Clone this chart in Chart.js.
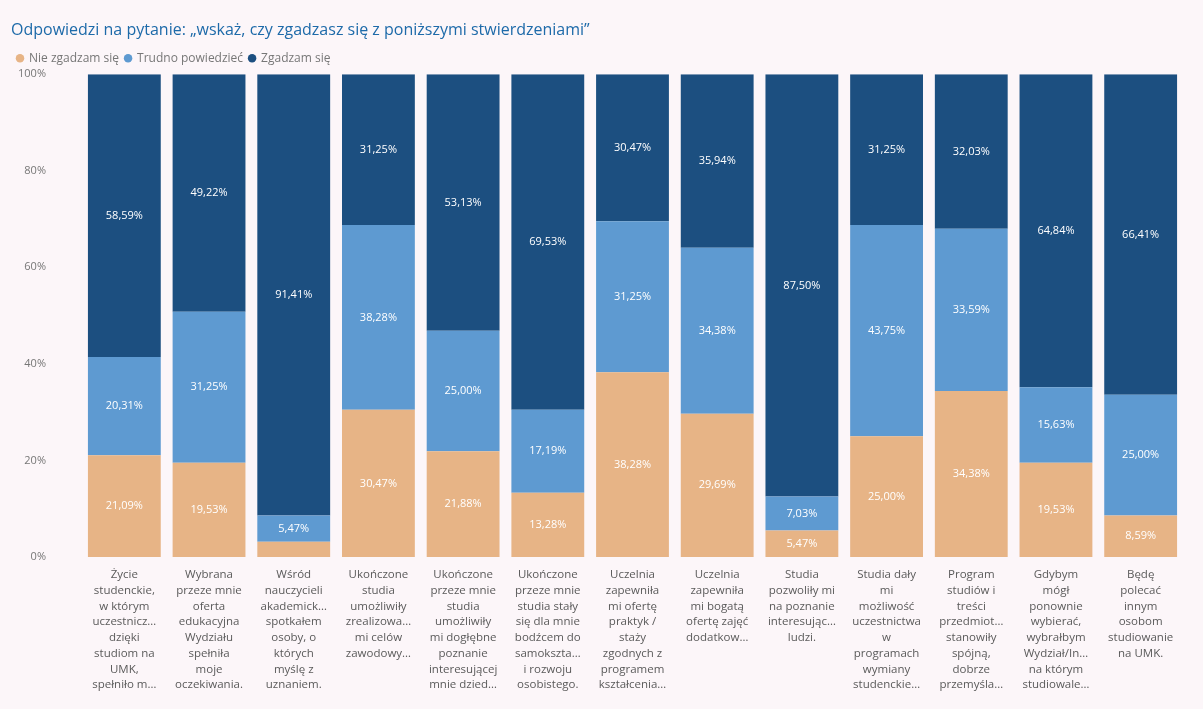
<!DOCTYPE html>
<html>
<head>
<meta charset="utf-8">
<script src="https://cdn.jsdelivr.net/npm/chart.js@4.4.1/dist/chart.umd.min.js"></script>
<style>
    html, body { margin: 0; padding: 0; background: #fcf6f9; }
    #wrap { width: 1203px; height: 709px; position: relative; }
</style>
</head>
<body>
<div id="wrap"><canvas id="chartOdpowiedzi"></canvas></div>
<script>
var categories = [
    ["Życie", "studenckie,", "w którym", "uczestnicz…", "dzięki", "studiom na", "UMK,", "spełniło m…"],
    ["Wybrana", "przeze mnie", "oferta", "edukacyjna", "Wydziału", "spełniła", "moje", "oczekiwania."],
    ["Wśród", "nauczycieli", "akademick…", "spotkałem", "osoby, o", "których", "myślę z", "uznaniem."],
    ["Ukończone", "studia", "umożliwiły", "zrealizowa…", "mi celów", "zawodowy…"],
    ["Ukończone", "przeze mnie", "studia", "umożliwiły", "mi dogłębne", "poznanie", "interesującej", "mnie dzied…"],
    ["Ukończone", "przeze mnie", "studia stały", "się dla mnie", "bodźcem do", "samokszta…", "i rozwoju", "osobistego."],
    ["Uczelnia", "zapewniła", "mi ofertę", "praktyk /", "staży", "zgodnych z", "programem", "kształcenia…"],
    ["Uczelnia", "zapewniła", "mi bogatą", "ofertę zajęć", "dodatkow…"],
    ["Studia", "pozwoliły mi", "na poznanie", "interesując…", "ludzi."],
    ["Studia dały", "mi", "możliwość", "uczestnictwa", "w", "programach", "wymiany", "studenckie…"],
    ["Program", "studiów i", "treści", "przedmiot…", "stanowiły", "spójną,", "dobrze", "przemyśla…"],
    ["Gdybym", "mógł", "ponownie", "wybierać,", "wybrałbym", "Wydział/In…", "na którym", "studiowale…"],
    ["Będę", "polecać", "innym", "osobom", "studiowanie", "na UMK."]
];

var nieZgadzam = [21.09, 19.53, 3.13, 30.47, 21.88, 13.28, 38.28, 29.69, 5.47, 25.00, 34.38, 19.53, 8.59];
var trudno     = [20.31, 31.25, 5.47, 38.28, 25.00, 17.19, 31.25, 34.38, 7.03, 43.75, 33.59, 15.63, 25.00];
var zgadzam    = [58.59, 49.22, 91.41, 31.25, 53.13, 69.53, 30.47, 35.94, 87.50, 31.25, 32.03, 64.84, 66.41];

var yTicks = [0, 20, 40, 60, 80, 100];

var FONT = "'Segoe UI', 'Open Sans', 'Noto Sans', sans-serif";

function fmtPct(v) {
    return v.toFixed(2).replace('.', ',') + '%';
}

// values written in the middle of each segment
var segmentLabels = {
    id: 'segmentLabels',
    afterDatasetsDraw: function(chart) {
        var ctx = chart.ctx;
        ctx.save();
        ctx.font = '11px ' + FONT;
        ctx.fillStyle = '#ffffff';
        ctx.textAlign = 'center';
        ctx.textBaseline = 'middle';
        chart.data.datasets.forEach(function(ds, i) {
            var meta = chart.getDatasetMeta(i);
            meta.data.forEach(function(bar, j) {
                var v = ds.data[j];
                if (v < 4) return;
                ctx.fillText(fmtPct(v), bar.x, (bar.y + bar.base) / 2);
            });
        });
        ctx.restore();
    }
};

var ctx = document.getElementById('chartOdpowiedzi');
var myStackedChart = new Chart(ctx, {
    type: 'bar',
    data: {
        labels: categories,
        datasets: [{
            label: 'Nie zgadzam się',
            data: nieZgadzam,
            backgroundColor: '#e7b486'
        }, {
            label: 'Trudno powiedzieć',
            data: trudno,
            backgroundColor: '#5e9ad1'
        }, {
            label: 'Zgadzam się',
            data: zgadzam,
            backgroundColor: '#1c4f80'
        }]
    },
    plugins: [segmentLabels],
    options: {
        responsive: true,
        maintainAspectRatio: false,
        animation: false,
        datasets: {
            bar: {
                categoryPercentage: 1.0,
                barPercentage: 0.86
            }
        },
        layout: {
            padding: { left: 11, right: 20, top: 13, bottom: 14 }
        },
        plugins: {
            title: {
                display: true,
                align: 'start',
                text: 'Odpowiedzi na pytanie: „wskaż, czy zgadzasz się z poniższymi stwierdzeniami”',
                color: '#1d6aa9',
                font: { family: FONT, size: 16, weight: 'normal' },
                padding: { top: 8, bottom: 6 }
            },
            legend: {
                position: 'top',
                align: 'start',
                labels: {
                    usePointStyle: true,
                    pointStyle: 'circle',
                    boxWidth: 6,
                    boxHeight: 6,
                    padding: 6,
                    color: '#777777',
                    font: { family: FONT, size: 12 }
                }
            },
            tooltip: { enabled: false }
        },
        scales: {
            x: {
                stacked: true,
                grid: { display: false },
                border: { display: false },
                ticks: {
                    maxRotation: 0,
                    minRotation: 0,
                    autoSkip: false,
                    padding: 2,
                    color: '#5a5a5a',
                    font: { family: FONT, size: 11.5, lineHeight: 1.37 }
                }
            },
            y: {
                stacked: true,
                min: 0,
                max: 100,
                grid: { display: false },
                border: { display: false },
                afterFit: function(scale) { scale.width = 71; },
                afterBuildTicks: function(scale) {
                    scale.ticks = yTicks.map(function(v) { return { value: v }; });
                },
                ticks: {
                    padding: 28,
                    color: '#777777',
                    font: { family: FONT, size: 11 },
                    callback: function(v) { return v + '%'; }
                }
            }
        }
    }
});
</script>
</body>
</html>
